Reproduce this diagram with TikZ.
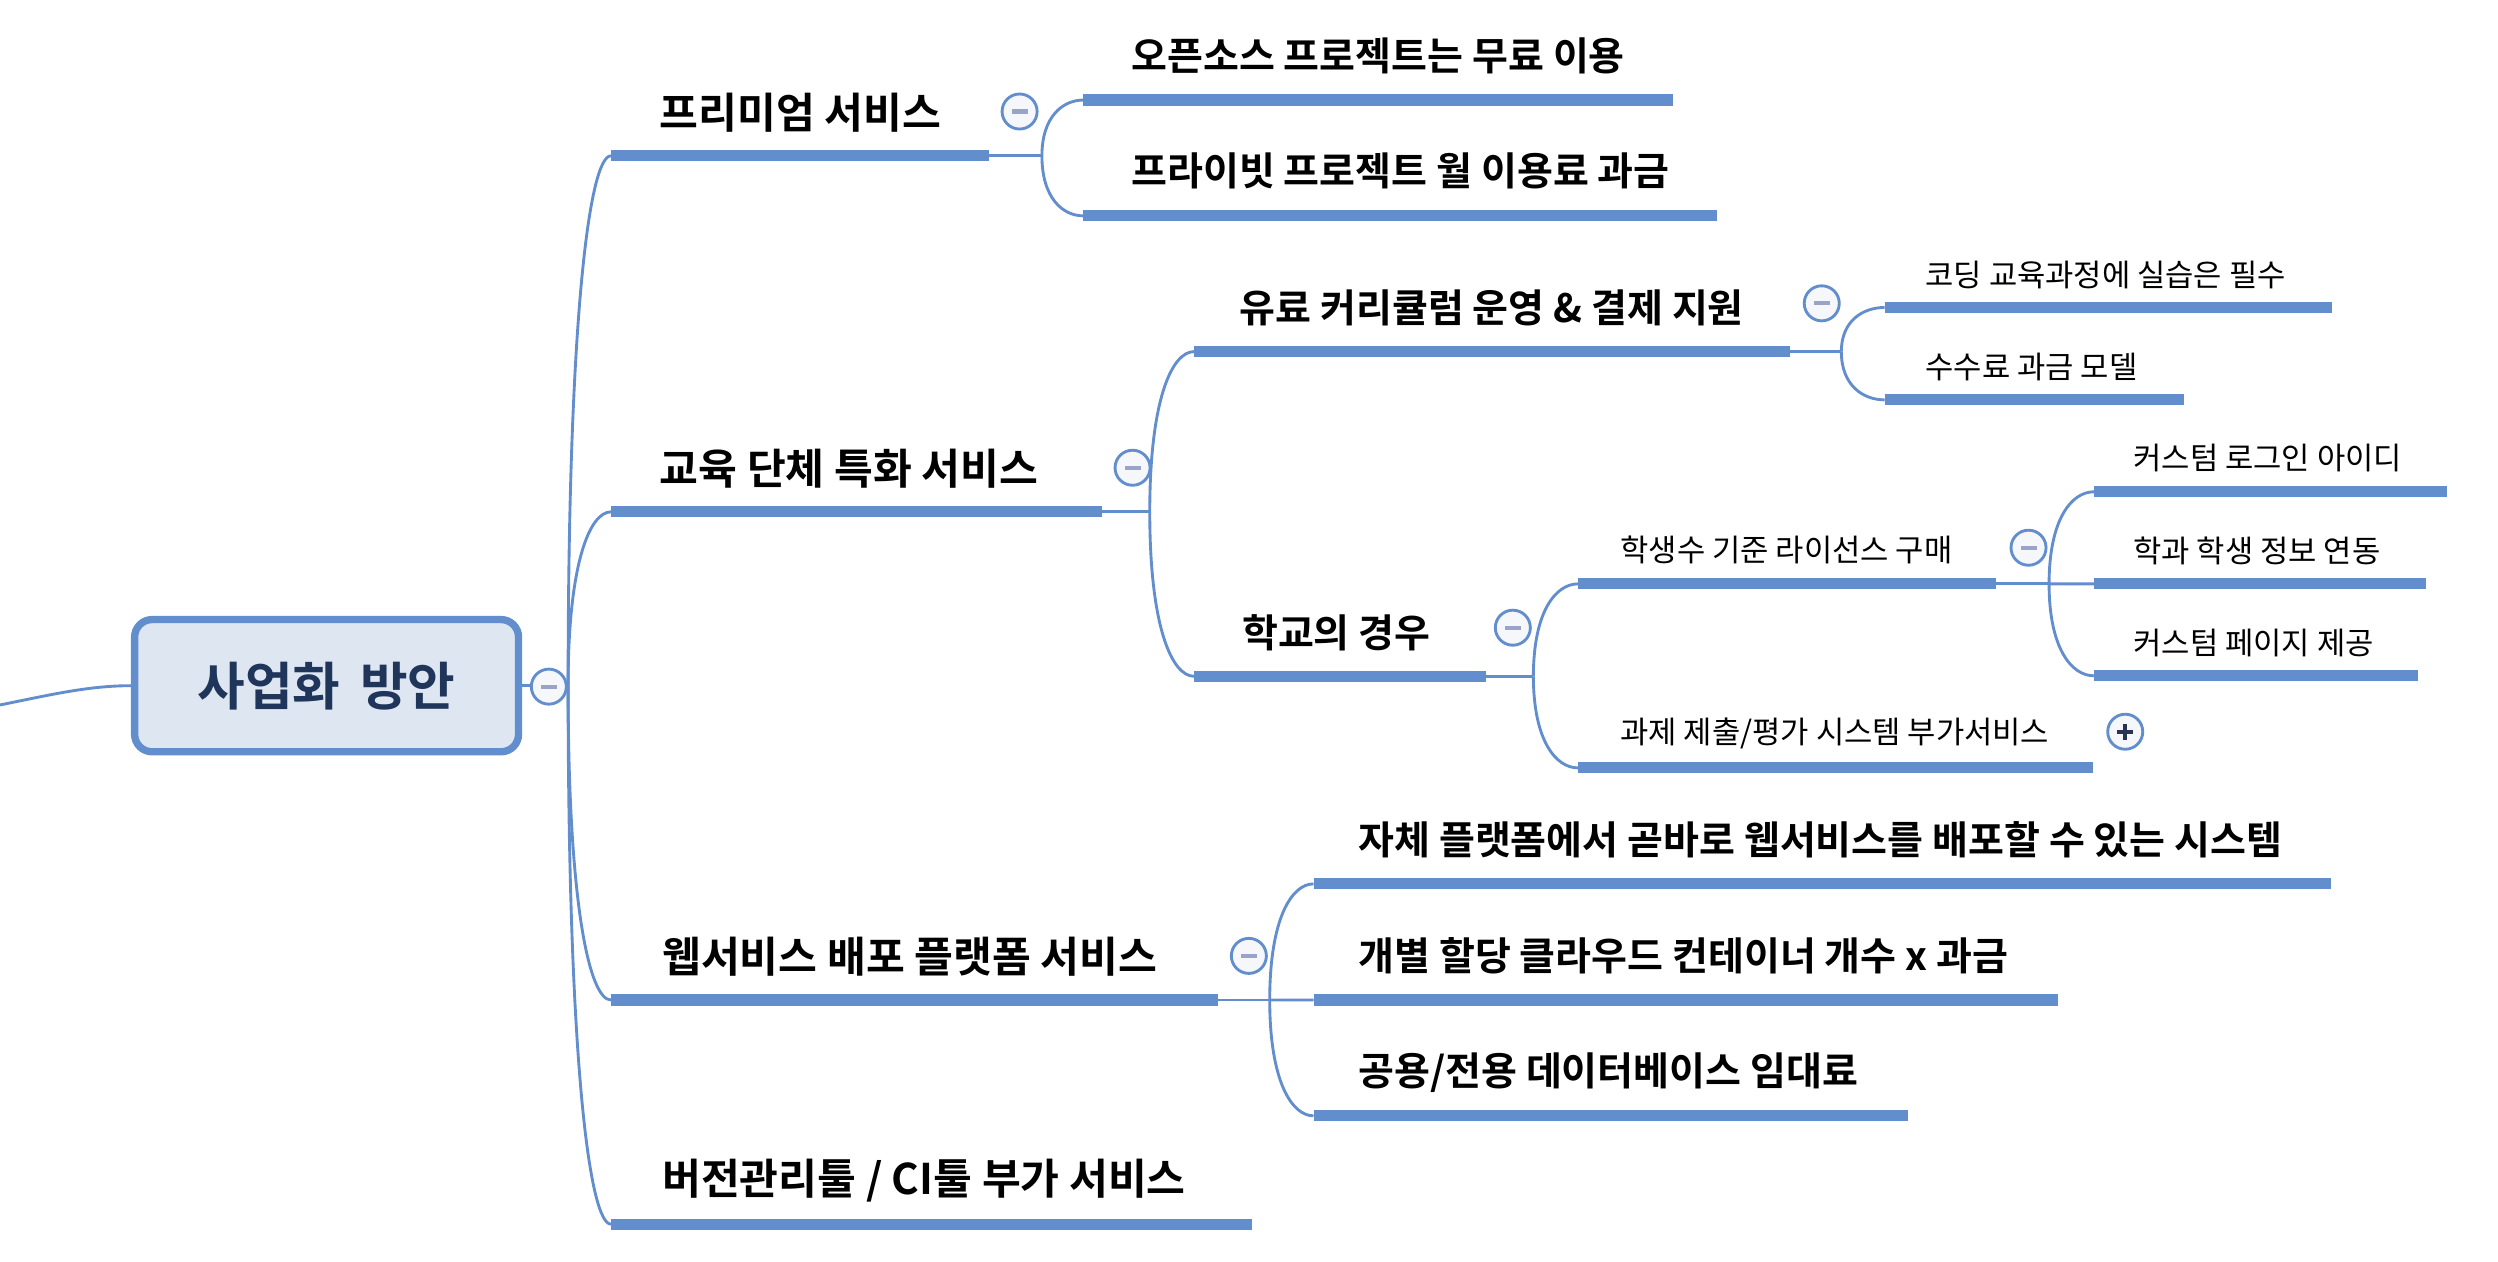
\documentclass[tikz,border=0pt]{standalone}
\usepackage{fontspec}
\usepackage{tikz}
\usetikzlibrary{calc}

\newfontfamily\korfont{Noto Sans CJK KR}[BoldFont={Noto Sans CJK KR Bold}]

\definecolor{mapblue}{RGB}{98,142,206}
\definecolor{rootfill}{RGB}{222,230,242}
\definecolor{roottext}{RGB}{31,53,89}
\definecolor{foldfill}{RGB}{246,247,251}
\definecolor{foldmark}{RGB}{155,163,201}
\definecolor{plusmark}{RGB}{40,52,84}

\begin{document}
\begin{tikzpicture}[x=1pt,y=-1pt,
    link/.style={draw=mapblue, line width=1.8pt},
    bar/.style={draw=mapblue, line width=7pt},
    twig/.style={to path={.. controls ($(\tikztostart)!0.7!(\tikztostart|-\tikztotarget)$)
        and ($(\tikztostart|-\tikztotarget)!0.5!(\tikztotarget)$) .. (\tikztotarget)}},
    rootbox/.style={draw=mapblue, line width=4.6pt, fill=rootfill, rounded corners=11pt,
        minimum width=241pt, minimum height=83pt, text=roottext,
        font=\korfont\bfseries\fontsize{32.5}{38}\selectfont},
    topic/.style={anchor=west, inner sep=0pt, font=\korfont\bfseries\fontsize{26.5}{31}\selectfont},
    subtopic/.style={anchor=west, inner sep=0pt, font=\korfont\bfseries\fontsize{24.5}{29}\selectfont},
    detail/.style={anchor=west, inner sep=0pt, font=\korfont\fontsize{19.3}{23}\selectfont},
    fold/.style={circle, draw=mapblue, line width=1.8pt, fill=foldfill, minimum size=22pt, inner sep=0pt,
        path picture={\draw[foldmark, line width=2.6pt]
          ([xshift=-5pt]path picture bounding box.center) -- ([xshift=5pt]path picture bounding box.center);}},
    unfold/.style={circle, draw=mapblue, line width=1.8pt, fill=foldfill, minimum size=22pt, inner sep=0pt,
        path picture={\draw[plusmark, line width=2.4pt]
          ([xshift=-5pt]path picture bounding box.center) -- ([xshift=5pt]path picture bounding box.center)
          ([yshift=-5pt]path picture bounding box.center) -- ([yshift=5pt]path picture bounding box.center);}}
  ]
  \useasboundingbox (0,0) rectangle (1568,792);

  % root
  \node[rootbox] (root) at (205,430.4) {사업화\hspace{0.38em}방안};
  \coordinate (feed) at (0,442.5);
  \coordinate (root-j) at (356.6,430.4);

  % underlines: name / left / right / y
  \foreach \n/\a/\b/\y in {prem/383.5/621/97.8, open/680/1050/62.8, priv/680/1078/135.5,
      edu/383.5/691.6/321.3, paid/749.5/1123.6/220.7, code/1183/1464/193, fee/1183/1371/251,
      school/749.5/933/424.5, seat/990.5/1253/366.5, login/1314.3/1536/308.7,
      dept/1314.3/1523/366.5, page/1314.3/1518/424.2, task/990.5/1314/482,
      web/383.5/764.4/627.7, self/824.5/1463.3/554.8, cont/824.5/1291.6/627.7,
      db/824.5/1197.5/700.4, vcs/383.5/786/768.4}
  {
    \coordinate (\n-l) at (\a,\y);
    \coordinate (\n-r) at (\b,\y);
  }
  \coordinate (prem-j) at (654,97.8);
  \coordinate (edu-j) at (721.7,321.3);
  \coordinate (paid-j) at (1155.8,220.7);
  \coordinate (school-j) at (962.5,424.5);
  \coordinate (seat-j) at (1286.2,366.5);
  \coordinate (web-j) at (797,627.7);

  % connectors
  \draw[link] (feed) .. controls (30,436.5) and (55,430.4) .. (root.west);
  \draw[link] (root.east) -- (root-j);
  \foreach \c in {prem,edu,web,vcs}
    \draw[link] (root-j) to[twig] (\c-l);
  \draw[link] (prem-r) -- (prem-j);
  \foreach \c in {open,priv}
    \draw[link] (prem-j) to[twig] (\c-l);
  \draw[link] (edu-r) -- (edu-j);
  \foreach \c in {paid,school}
    \draw[link] (edu-j) to[twig] (\c-l);
  \draw[link] (paid-r) -- (paid-j);
  \foreach \c in {code,fee}
    \draw[link] (paid-j) to[twig] (\c-l);
  \draw[link] (school-r) -- (school-j);
  \foreach \c in {seat,task}
    \draw[link] (school-j) to[twig] (\c-l);
  \draw[link] (seat-r) -- (seat-j);
  \foreach \c in {login,dept,page}
    \draw[link] (seat-j) to[twig] (\c-l);
  \draw[link] (web-r) -- (web-j);
  \foreach \c in {self,cont,db}
    \draw[link] (web-j) to[twig] (\c-l);

  % underlines on top of the connectors
  \foreach \n in {prem,open,priv,edu,paid,code,fee,school,seat,login,dept,page,task,web,self,cont,db,vcs}
    \draw[bar] (\n-l) -- (\n-r);

  % texts
  \node[topic] (prem) at (414,70.8) {프리미엄 서비스};
  \node[subtopic] (open) at (710,35) {오픈소스 프로젝트는 무료 이용};
  \node[subtopic] (priv) at (710,107.5) {프라이빗 프로젝트 월 이용료 과금};
  \node[topic] (edu) at (414,294) {교육 단체 특화 서비스};
  \node[subtopic] (paid) at (778,193) {유료 커리큘럼 운영 \& 결제 지원};
  \node[detail] (code) at (1208.5,172.5) {코딩 교육과정에 실습은 필수};
  \node[detail] (fee) at (1208.5,230.5) {수수료 과금 모델};
  \node[subtopic] (school) at (779.5,397) {학교의 경우};
  \node[detail] (seat) at (1017,345.5) {학생수 기준 라이선스 구매};
  \node[detail] (login) at (1339,287.7) {커스텀 로그인 아이디};
  \node[detail] (dept) at (1339,345.5) {학과 학생 정보 연동};
  \node[detail] (page) at (1339,403.5) {커스텀 페이지 제공};
  \node[detail] (task) at (1017,460.5) {과제 제출/평가 시스템 부가서비스};
  \node[topic] (web) at (415.5,600.5) {웹서비스 배포 플랫폼 서비스};
  \node[subtopic] (self) at (852.5,527) {자체 플랫폼에서 곧바로 웹서비스를 배포할 수 있는 시스템};
  \node[subtopic] (cont) at (852.5,600) {개별 할당 클라우드 컨테이너 개수 x 과금};
  \node[subtopic] (db) at (852.5,673.5) {공용/전용 데이터베이스 임대료};
  \node[topic] (vcs) at (415.5,741) {버전관리툴 / CI툴 부가 서비스};

  % fold marks
  \node[fold] (root-f) at (344.5,431) {};
  \node[fold] (prem-f) at (640,70) {};
  \node[fold] (edu-f) at (710.9,293.6) {};
  \node[fold] (paid-f) at (1143.5,190.4) {};
  \node[fold] (school-f) at (949.6,394) {};
  \node[fold] (seat-f) at (1273.3,343.8) {};
  \node[fold] (web-f) at (783.9,600) {};
  \node[unfold] (task-f) at (1334,459.3) {};
\end{tikzpicture}
\end{document}
